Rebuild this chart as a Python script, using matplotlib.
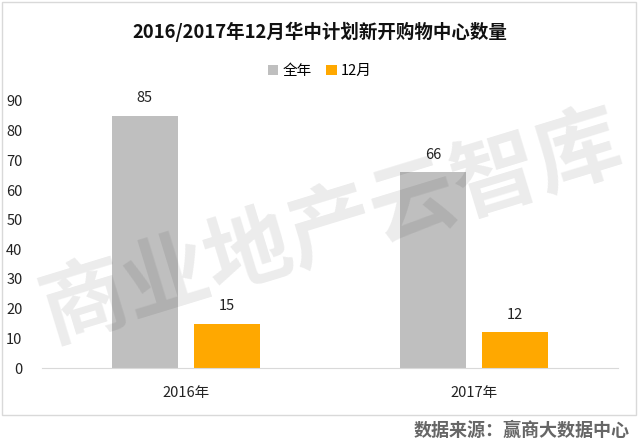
import matplotlib.pyplot as plt
import numpy as np
from matplotlib.patches import Rectangle

plt.rcParams['font.family'] = ['Noto Sans CJK SC', 'DejaVu Sans']

categories = ['2016年', '2017年']
series_names = ['全年', '12月']
full_year = [85, 66]
december = [15, 12]
colors = ['#BFBFBF', '#FFA800']

fig = plt.figure(figsize=(6.4, 4.43), dpi=100)
W, H = 640, 443
ax = fig.add_axes([42 / W, 1 - 368 / H, (618 - 42) / W, (368 - 101) / H])
ax.patch.set_alpha(0)

x = np.arange(len(categories))
w = 0.229
off = 0.143
b1 = ax.bar(x - off, full_year, w, color=colors[0], label=series_names[0], zorder=2)
b2 = ax.bar(x + off, december, w, color=colors[1], label=series_names[1], zorder=2)
for bars, vals in ((b1, full_year), (b2, december)):
    for r, v in zip(bars, vals):
        ax.text(r.get_x() + r.get_width() / 2, v + 3.5, str(v), ha='center', va='bottom',
                fontsize=10.5, color='#222222', zorder=3)

ax.set_xlim(-0.5, 1.5)
ax.set_ylim(0, 90)
ax.set_yticks(range(0, 91, 10))
ax.set_xticks(x)
ax.set_xticklabels(categories)
for s in ['top', 'right', 'left']:
    ax.spines[s].set_visible(False)
ax.spines['bottom'].set_color('#D9D9D9')
ax.tick_params(axis='both', length=0, labelsize=10.5, colors='#222222')
ax.tick_params(axis='x', pad=13)
ax.tick_params(axis='y', pad=14)

fig.text(0.5, 1 - 32 / H, '2016/2017年12月华中计划新开购物中心数量', ha='center', va='center',
         fontsize=13.3, fontweight='bold', color='#111111')
fig.legend(handles=[b1, b2], labels=series_names, loc='center', bbox_to_anchor=(0.5, 1 - 71 / H),
           ncol=2, frameon=False, fontsize=10.5, handlelength=0.7, handleheight=0.7,
           handletextpad=0.3, columnspacing=1.0)

fig.text(332 / W, 1 - 228 / H, '商业地产云智库', ha='center', va='center', fontsize=62,
         rotation=17, color='black', alpha=0.08, zorder=10, fontweight='bold')

fig.patches.append(Rectangle((2 / W, 1 - 415 / H), (636 - 2) / W, (415 - 2) / H,
                             transform=fig.transFigure, fill=False, edgecolor='#D9D9D9', lw=1))
fig.text(630 / W, 1 - 430 / H, '数据来源：赢商大数据中心', ha='right', va='center', fontsize=13,
         color='#666666', fontweight='bold')

fig.savefig('out.png', dpi=100)
